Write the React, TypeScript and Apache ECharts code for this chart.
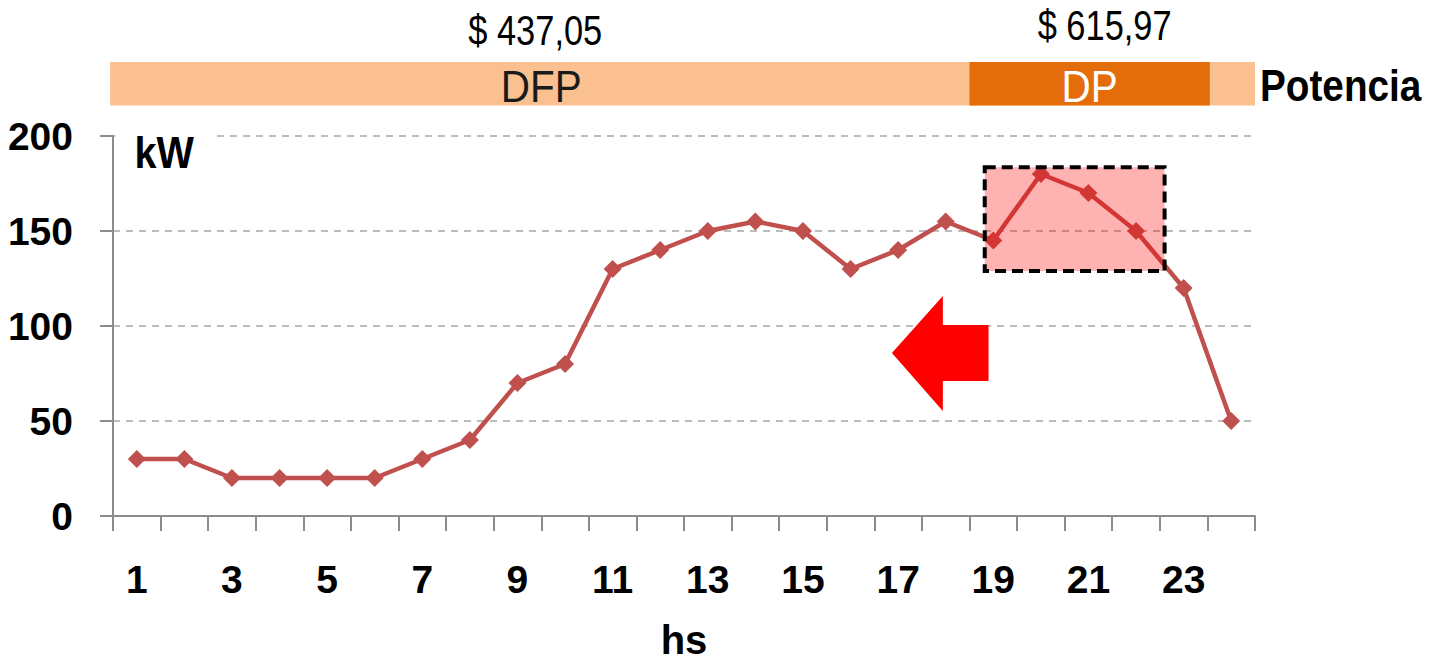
import React, { useEffect, useRef } from "react";
import * as echarts from "echarts";

const hours = ["1","2","3","4","5","6","7","8","9","10","11","12","13","14","15","16","17","18","19","20","21","22","23","24"];
const demandKW = [30, 30, 20, 20, 20, 20, 30, 40, 70, 80, 130, 140, 150, 155, 150, 130, 140, 155, 145, 180, 170, 150, 120, 50];
const yMin = 0;
const yMax = 200;
const yInterval = 50;

// tariff periods on the hour scale (0.5 .. 24.5 = whole day)
const bandFrom = 0.44;
const bandTo = 24.5;
const dfpFrom = 0.5;
const dfpTo = 18.5;
const dpFrom = 18.5;
const dpTo = 23.55;
const bandTopKW = 239;
const bandBottomKW = 216;
const dfpPrice = "$ 437,05";
const dpPrice = "$ 615,97";

// highlighted peak window (hours / kW)
const peakBox = { x0: 18.82, x1: 22.6, y0: 129, y1: 183.5 };
// arrow polygon (hours / kW)
const arrowPts: [number, number][] = [
  [16.87, 85.8], [17.94, 115.8], [17.94, 100.5], [18.9, 100.5],
  [18.9, 71.1], [17.94, 71.1], [17.94, 55.3],
];

const FONT = "'Liberation Sans', Arial, sans-serif";

export default function App() {
  const ref = useRef<HTMLDivElement>(null);
  useEffect(() => {
    document.body.style.margin = "0";
    const chart = echarts.init(ref.current!, null, { renderer: "svg" });
    chart.setOption({
      animation: false,
      grid: { left: 113, right: 174, top: 136, bottom: 146, outerBoundsMode: "none", containLabel: false },
      xAxis: [
        {
          type: "category",
          data: hours,
          boundaryGap: true,
          name: "hs",
          nameLocation: "middle",
          nameGap: 104,
          nameTextStyle: { fontFamily: FONT, fontWeight: "bold", fontSize: 40, color: "#000" },
          axisLine: { lineStyle: { color: "#8c8c8c", width: 2 } },
          axisTick: { show: true, interval: 0, length: 15, lineStyle: { color: "#8c8c8c", width: 2 } },
          axisLabel: { interval: 1, margin: 44, fontFamily: FONT, fontWeight: "bold", fontSize: 39, color: "#000" },
          splitLine: { show: false },
        },
        { type: "value", min: 0.5, max: 24.5, show: false, position: "top" },
      ],
      yAxis: {
        type: "value",
        min: yMin,
        max: yMax,
        interval: yInterval,
        axisLine: { show: true, lineStyle: { color: "#8c8c8c", width: 2 } },
        axisTick: { show: true, length: 13, lineStyle: { color: "#8c8c8c", width: 2 } },
        axisLabel: { margin: 40, fontFamily: FONT, fontWeight: "bold", fontSize: 39, color: "#000" },
        splitLine: { show: true, lineStyle: { color: "#a6a6a6", width: 1.5, type: [7, 6] } },
      },
      series: [
        {
          type: "line",
          data: demandKW,
          xAxisIndex: 0,
          yAxisIndex: 0,
          symbol: "diamond",
          symbolSize: 18,
          lineStyle: { color: "#C0504D", width: 4.5 },
          itemStyle: { color: "#C0504D" },
          z: 2,
        },
      ],
    });

    const px = (x: number) => chart.convertToPixel({ xAxisIndex: 1 }, x) as number;
    const py = (y: number) => chart.convertToPixel({ yAxisIndex: 0 }, y) as number;

    const bt = py(bandTopKW);
    const bb = py(bandBottomKW);
    const bandMid = (bt + bb) / 2;
    const priceY = bt - 32;

    chart.setOption({
      graphic: [
        { type: "rect", shape: { x: px(bandFrom), y: bt, width: px(bandTo) - px(bandFrom), height: bb - bt }, style: { fill: "#FAC090" }, z: 1 },
        { type: "rect", shape: { x: px(dpFrom), y: bt, width: px(dpTo) - px(dpFrom), height: bb - bt }, style: { fill: "#E46C0A" }, z: 2 },
        { type: "text", x: px((dfpFrom + dfpTo) / 2), y: bandMid + 3, scaleX: 0.92, style: { text: "DFP", fill: "#1a1a1a", font: `44px ${FONT}`, align: "center", verticalAlign: "middle" }, z: 3 },
        { type: "text", x: px((dpFrom + dpTo) / 2), y: bandMid + 3, scaleX: 0.92, style: { text: "DP", fill: "#ffffff", font: `44px ${FONT}`, align: "center", verticalAlign: "middle" }, z: 3 },
        { type: "text", x: px((dfpFrom + dfpTo) / 2) - 6, y: priceY, scaleX: 0.82, style: { text: dfpPrice, fill: "#000", font: `42px ${FONT}`, align: "center", verticalAlign: "middle" }, z: 3 },
        { type: "text", x: px((dpFrom + dpTo) / 2) + 15, y: priceY - 5, scaleX: 0.82, style: { text: dpPrice, fill: "#000", font: `42px ${FONT}`, align: "center", verticalAlign: "middle" }, z: 3 },
        { type: "text", x: px(bandTo) + 5, y: bandMid + 2, scaleX: 0.88, style: { text: "Potencia", fill: "#000", font: `bold 44px ${FONT}`, align: "left", verticalAlign: "middle" }, z: 3 },
        { type: "rect", shape: { x: px(0.55), y: py(200) - 12, width: px(2.6) - px(0.55), height: 24 }, style: { fill: "#fff" }, z: 3 },
        { type: "text", x: px(0.95), y: py(191), scaleX: 0.9, style: { text: "kW", fill: "#000", font: `bold 44px ${FONT}`, align: "left", verticalAlign: "middle" }, z: 4 },
        {
          type: "rect",
          shape: { x: px(peakBox.x0), y: py(peakBox.y1), width: px(peakBox.x1) - px(peakBox.x0), height: py(peakBox.y0) - py(peakBox.y1) },
          style: { fill: "rgba(255,0,0,0.3)", stroke: "#000", lineWidth: 4, lineDash: [11, 6] },
          z: 10,
        },
        { type: "polygon", shape: { points: arrowPts.map(([x, y]) => [px(x), py(y)]) }, style: { fill: "#FF0000" }, z: 10 },
      ],
    });
    return () => chart.dispose();
  }, []);
  return <div ref={ref} style={{ width: 1429, height: 662 }} />;
}
